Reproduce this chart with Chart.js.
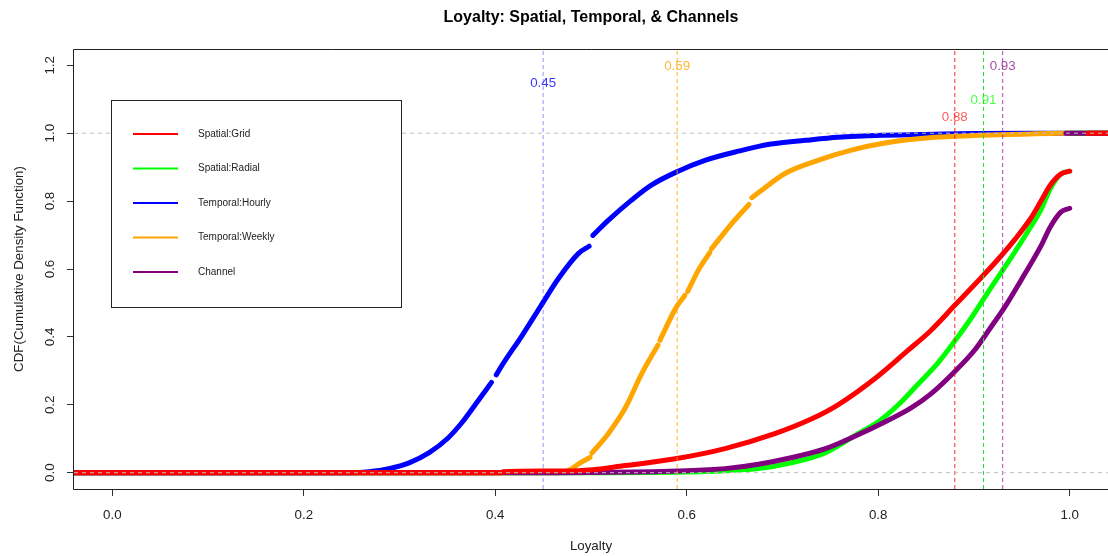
<!DOCTYPE html>
<html>
<head>
<meta charset="utf-8">
<title>Loyalty: Spatial, Temporal, &amp; Channels</title>
<script src="https://cdn.jsdelivr.net/npm/chart.js@4.4.1/dist/chart.umd.min.js"></script>
<style>
  html, body { margin: 0; padding: 0; background: #fff; overflow: hidden; }
  #wrap { width: 1108px; height: 556px; }
</style>
</head>
<body>
<div id="wrap"><canvas id="cdf" width="1108" height="556"></canvas></div>
<script>
// Empirical CDF of loyalty per grouping; null marks a jump in the step function
const gridX = [-0.04, 0.407, 0.408, 0.45, 0.487, 0.536, 0.588, 0.640, 0.692, 0.730, 0.758, 0.800, 0.831, 0.855, 0.880, 0.901, 0.925, 0.943, 0.959, 0.970, 0.980, 0.991, 1.0, 1.0, 1.019, 1.04];
const gridY = [0, 0, 0.003, 0.005, 0.006, 0.021, 0.041, 0.071, 0.115, 0.158, 0.200, 0.285, 0.360, 0.419, 0.493, 0.555, 0.628, 0.688, 0.748, 0.800, 0.848, 0.880, 0.888, null, 1, 1];

const radialX = [-0.04, 0.485, 0.60, 0.64, 0.675, 0.709, 0.745, 0.779, 0.800, 0.821, 0.842, 0.862, 0.880, 0.897, 0.918, 0.939, 0.959, 0.970, 0.980, 0.991, 1.0, 1.0, 1.0, 1.04];
const radialY = [0, 0, 0.002, 0.006, 0.012, 0.029, 0.059, 0.115, 0.150, 0.200, 0.262, 0.322, 0.388, 0.455, 0.546, 0.634, 0.723, 0.775, 0.838, 0.880, 0.888, null, 1, 1];

const hourlyX = [-0.04, 0.25, 0.268, 0.289, 0.310, 0.331, 0.351, 0.365, 0.380, 0.396, 0.398, 0.401, 0.407, 0.428, 0.448, 0.466, 0.487, 0.498, 0.500, 0.502, 0.518, 0.542, 0.563, 0.591, 0.619, 0.654, 0.688, 0.724, 0.758, 0.807, 0.859, 0.90, 0.96, 1.04];
const hourlyY = [0, 0, 0.003, 0.012, 0.029, 0.059, 0.103, 0.147, 0.204, 0.266, null, 0.288, 0.316, 0.404, 0.493, 0.572, 0.646, 0.667, null, 0.699, 0.743, 0.802, 0.847, 0.888, 0.920, 0.947, 0.968, 0.979, 0.988, 0.994, 0.997, 0.999, 1, 1];

const weeklyX = [-0.04, 0.466, 0.48, 0.487, 0.499, 0.500, 0.501, 0.518, 0.536, 0.553, 0.570, 0.571, 0.572, 0.589, 0.598, 0.600, 0.601, 0.612, 0.624, 0.625, 0.626, 0.647, 0.665, 0.666, 0.668, 0.675, 0.703, 0.737, 0.772, 0.807, 0.859, 0.90, 0.95, 0.99, 1.04];
const weeklyY = [0, 0, 0.012, 0.026, 0.045, null, 0.058, 0.115, 0.192, 0.292, 0.376, null, 0.390, 0.487, 0.522, null, 0.534, 0.596, 0.648, null, 0.660, 0.734, 0.790, null, 0.810, 0.825, 0.882, 0.920, 0.950, 0.971, 0.988, 0.993, 0.997, 1, 1];

const channelX = [-0.04, 0.417, 0.60, 0.64, 0.675, 0.709, 0.745, 0.779, 0.800, 0.834, 0.855, 0.880, 0.901, 0.918, 0.932, 0.953, 0.970, 0.980, 0.991, 1.0, 1.0, 0.996, 1.04];
const channelY = [0, 0, 0.006, 0.012, 0.025, 0.044, 0.071, 0.112, 0.140, 0.190, 0.232, 0.298, 0.362, 0.430, 0.487, 0.585, 0.668, 0.725, 0.768, 0.779, null, 1, 1];

const seriesNames = ['Spatial:Grid', 'Spatial:Radial', 'Temporal:Hourly', 'Temporal:Weekly', 'Channel'];
const seriesColors = ['#ff0000', '#00ff00', '#0000ff', '#ffa500', '#800080'];

// Median loyalty of each grouping, marked with a vertical line
const medians = [0.45, 0.59, 0.88, 0.91, 0.93];
const medianLineColors = ['rgba(60,60,255,0.55)', 'rgba(255,165,0,0.85)', 'rgba(255,0,0,0.85)', '#22dd22', 'rgba(160,20,160,0.8)'];
const medianTextColors = ['rgba(0,0,255,0.8)', 'rgba(255,165,0,0.8)', 'rgba(255,0,0,0.65)', 'rgba(0,255,0,0.7)', 'rgba(128,0,128,0.7)'];

const X_MIN = -0.04, X_MAX = 1.04, Y_MIN = -0.048, Y_MAX = 1.248;
const FONT = "'Liberation Sans', Arial, Helvetica, sans-serif";

function points(xs, ys) { return xs.map((x, i) => ({ x: x, y: ys[i] })); }

const curveSets = [
  [gridX, gridY], [radialX, radialY], [hourlyX, hourlyY], [weeklyX, weeklyY], [channelX, channelY]
];
// lower order is painted last (on top)
const drawOrder = [2, 4, 6, 5, 3];

const datasets = curveSets.map((s, i) => ({
  label: seriesNames[i],
  isSeries: true,
  data: points(s[0], s[1]),
  borderColor: seriesColors[i],
  backgroundColor: seriesColors[i],
  borderWidth: 5,
  borderCapStyle: 'round',
  borderJoinStyle: 'round',
  pointRadius: 0,
  cubicInterpolationMode: 'monotone',
  spanGaps: false,
  order: drawOrder[i]
}));

// horizontal reference lines at CDF 0 and 1
[0, 1].forEach(level => {
  datasets.push({
    label: 'ref' + level,
    data: [{ x: X_MIN, y: level }, { x: X_MAX, y: level }],
    borderColor: '#bebebe',
    borderWidth: 1,
    borderDash: [4, 4],
    pointRadius: 0,
    order: 0
  });
});

// vertical median lines
medians.forEach((m, i) => {
  datasets.push({
    label: 'median ' + m,
    data: [{ x: m, y: Y_MIN }, { x: m, y: Y_MAX }],
    borderColor: medianLineColors[i],
    borderWidth: 1,
    borderDash: [4, 3],
    pointRadius: 0,
    order: 0
  });
});

const medianLabels = {
  id: 'medianLabels',
  afterDatasetsDraw(chart, args, opts) {
    const { ctx, scales } = chart;
    ctx.save();
    ctx.font = '13.33px ' + FONT;
    ctx.textAlign = 'center';
    ctx.textBaseline = 'middle';
    medians.forEach((m, i) => {
      ctx.fillStyle = medianTextColors[i];
      const px = scales.x.getPixelForValue(m);
      const py = scales.y.getPixelForValue(opts.levels[i]) + 1.5;
      ctx.fillText(m.toFixed(2), px, py);
    });
    ctx.restore();
  }
};

const plotFrame = {
  id: 'plotFrame',
  afterDraw(chart) {
    const { ctx, chartArea: a } = chart;
    ctx.save();
    ctx.strokeStyle = '#222';
    ctx.lineWidth = 1;
    ctx.beginPath();
    ctx.moveTo(a.right + 1, a.top + 0.5);
    ctx.lineTo(a.left - 0.5, a.top + 0.5);
    ctx.lineTo(a.left - 0.5, a.bottom + 0.5);
    ctx.lineTo(a.right + 1, a.bottom + 0.5);
    ctx.stroke();
    ctx.restore();
  }
};

const boxLegend = {
  id: 'boxLegend',
  afterDraw(chart, args, o) {
    const ctx = chart.ctx;
    ctx.save();
    ctx.fillStyle = '#fff';
    ctx.fillRect(o.x, o.y, o.w, o.h);
    ctx.strokeStyle = '#222';
    ctx.lineWidth = 1;
    ctx.strokeRect(o.x + 0.5, o.y + 0.5, o.w, o.h);
    ctx.font = '10px ' + FONT;
    ctx.textAlign = 'left';
    ctx.textBaseline = 'middle';
    const items = chart.data.datasets.filter(d => d.isSeries);
    items.forEach((d, i) => {
      const y = o.y + o.firstRow + i * o.rowGap;
      ctx.strokeStyle = d.borderColor;
      ctx.lineWidth = 2;
      ctx.beginPath();
      ctx.moveTo(o.lineX0, y);
      ctx.lineTo(o.lineX1, y);
      ctx.stroke();
      ctx.fillStyle = '#222';
      ctx.fillText(d.label, o.textX, y);
    });
    ctx.restore();
  }
};

new Chart(document.getElementById('cdf'), {
  type: 'line',
  data: { datasets: datasets },
  plugins: [medianLabels, plotFrame, boxLegend],
  options: {
    responsive: false,
    animation: false,
    devicePixelRatio: 1,
    layout: { padding: { left: 0, right: -2, top: 0, bottom: 0 } },
    plugins: {
      legend: { display: false },
      tooltip: { enabled: false },
      title: {
        display: true,
        fullSize: false,
        text: 'Loyalty: Spatial, Temporal, & Channels',
        color: '#000',
        font: { family: FONT, size: 16, weight: 'bold' },
        padding: { top: 8.4, bottom: 21.4 }
      },
      medianLabels: { levels: [1.15, 1.2, 1.05, 1.1, 1.2] },
      boxLegend: { x: 111, y: 100, w: 290, h: 207, firstRow: 34, rowGap: 34.5, lineX0: 133, lineX1: 178, textX: 198 }
    },
    scales: {
      x: {
        type: 'linear',
        min: X_MIN,
        max: X_MAX,
        afterFit: s => { s.height = 67; },
        border: { display: false },
        grid: { drawOnChartArea: false, drawTicks: true, tickLength: 7, tickColor: '#333', lineWidth: 1 },
        ticks: {
          stepSize: 0.2,
          includeBounds: false,
          padding: 11,
          color: '#222',
          font: { family: FONT, size: 13.33 },
          maxRotation: 0,
          callback: v => Number(v).toFixed(1)
        },
        title: { display: true, text: 'Loyalty', color: '#222', font: { family: FONT, size: 13.33 }, padding: { top: 0, bottom: 2 } }
      },
      y: {
        type: 'linear',
        min: Y_MIN,
        max: Y_MAX,
        afterFit: s => { s.width = 74; },
        border: { display: false },
        grid: { drawOnChartArea: false, drawTicks: true, tickLength: 7, tickColor: '#333', lineWidth: 1 },
        ticks: {
          stepSize: 0.2,
          includeBounds: false,
          padding: 7,
          minRotation: 90,
          maxRotation: 90,
          crossAlign: 'center',
          color: '#222',
          font: { family: FONT, size: 13.33 },
          callback: v => Number(v).toFixed(1)
        },
        title: { display: true, text: 'CDF(Cumulative Density Function)', color: '#222', font: { family: FONT, size: 13.33 }, padding: { top: 11, bottom: 0 } }
      }
    }
  }
});
</script>
</body>
</html>
